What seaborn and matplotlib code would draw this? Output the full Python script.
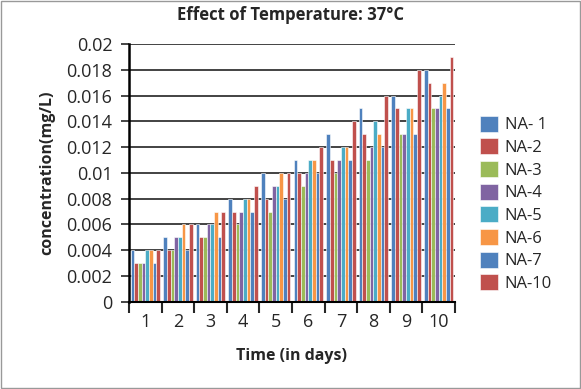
import pandas as pd
import seaborn as sns
import matplotlib.pyplot as plt
from matplotlib.patches import Rectangle

# values (mg/L)
days = ["1", "2", "3", "4", "5", "6", "7", "8", "9", "10"]
na_1 = [0.004, 0.005, 0.006, 0.008, 0.010, 0.011, 0.013, 0.015, 0.016, 0.018]
na_2 = [0.003, 0.004, 0.005, 0.007, 0.008, 0.010, 0.011, 0.013, 0.015, 0.017]
na_3 = [0.003, 0.004, 0.005, 0.006, 0.007, 0.009, 0.010, 0.011, 0.013, 0.015]
na_4 = [0.003, 0.005, 0.006, 0.007, 0.009, 0.010, 0.011, 0.012, 0.013, 0.015]
na_5 = [0.004, 0.005, 0.006, 0.008, 0.009, 0.011, 0.012, 0.014, 0.015, 0.016]
na_6 = [0.004, 0.006, 0.007, 0.008, 0.010, 0.011, 0.012, 0.013, 0.015, 0.017]
na_7 = [0.003, 0.004, 0.005, 0.007, 0.008, 0.010, 0.011, 0.012, 0.013, 0.015]
na_10 = [0.004, 0.006, 0.007, 0.009, 0.010, 0.012, 0.014, 0.016, 0.018, 0.019]

series = {"NA- 1": na_1, "NA-2": na_2, "NA-3": na_3, "NA-4": na_4,
          "NA-5": na_5, "NA-6": na_6, "NA-7": na_7, "NA-10": na_10}
colors = ["#4F81BD", "#C0504D", "#9BBB59", "#8064A2",
          "#4BACC6", "#F79646", "#4F81BD", "#C0504D"]

rows = []
for name, vals in series.items():
    for d, v in zip(days, vals):
        rows.append({"day": d, "series": name, "value": v})
df = pd.DataFrame(rows)

sns.set_style("white")
plt.rcParams["font.family"] = ["Open Sans", "DejaVu Sans"]

fig = plt.figure(figsize=(5.81, 3.89), dpi=100)
ax = fig.add_axes([0.222, 0.224, 0.561, 0.663])

sns.barplot(data=df, x="day", y="value", hue="series", order=days,
            hue_order=list(series.keys()), palette=colors, width=0.9,
            saturation=1, edgecolor="white", linewidth=0.4, ax=ax, legend=True)

ax.set_ylim(0, 0.02)
ax.set_xlim(-0.5, len(days) - 0.5)
yt = [i * 0.002 for i in range(11)]
ax.set_yticks(yt)
ax.set_yticklabels(["0", "0.002", "0.004", "0.006", "0.008", "0.01",
                    "0.012", "0.014", "0.016", "0.018", "0.02"], fontsize=13)
ax.yaxis.grid(True, color="#222222", linewidth=1.2)
ax.set_axisbelow(True)
ax.tick_params(axis="y", length=6, width=1.2, direction="out", left=True, pad=6)

ax.set_xticks(range(len(days)))
ax.set_xticklabels(days, fontsize=13)
ax.set_xticks([i - 0.5 for i in range(len(days) + 1)], minor=True)
ax.tick_params(axis="x", which="major", length=0, pad=8)
ax.tick_params(axis="x", which="minor", length=8, width=1.5, direction="out", bottom=True)

for s in ["top", "right"]:
    ax.spines[s].set_visible(False)
ax.spines["left"].set_linewidth(1.8)
ax.spines["bottom"].set_linewidth(1.5)
ax.spines["left"].set_color("black")
ax.spines["bottom"].set_color("black")

ax.set_xlabel("Time (in days)", fontsize=11.5, fontweight="bold", labelpad=12)
ax.set_ylabel("concentration(mg/L)", fontsize=11.5, fontweight="bold", labelpad=8)
fig.text(0.5, 0.962, "Effect of Temperature: 37°C", ha="center", va="center",
         fontsize=12, fontweight="bold")

handles, labels = ax.get_legend_handles_labels()
ax.legend(handles, labels, loc="center left", bbox_to_anchor=(1.03, 0.38),
          frameon=False, fontsize=12, handlelength=1.1, handleheight=1.1,
          labelspacing=0.3, handletextpad=0.4)

fig.patches.append(Rectangle((0.002, 0.003), 0.996, 0.994, transform=fig.transFigure,
                             fill=False, edgecolor="#999999", linewidth=1))

fig.savefig("out.png", dpi=100)
